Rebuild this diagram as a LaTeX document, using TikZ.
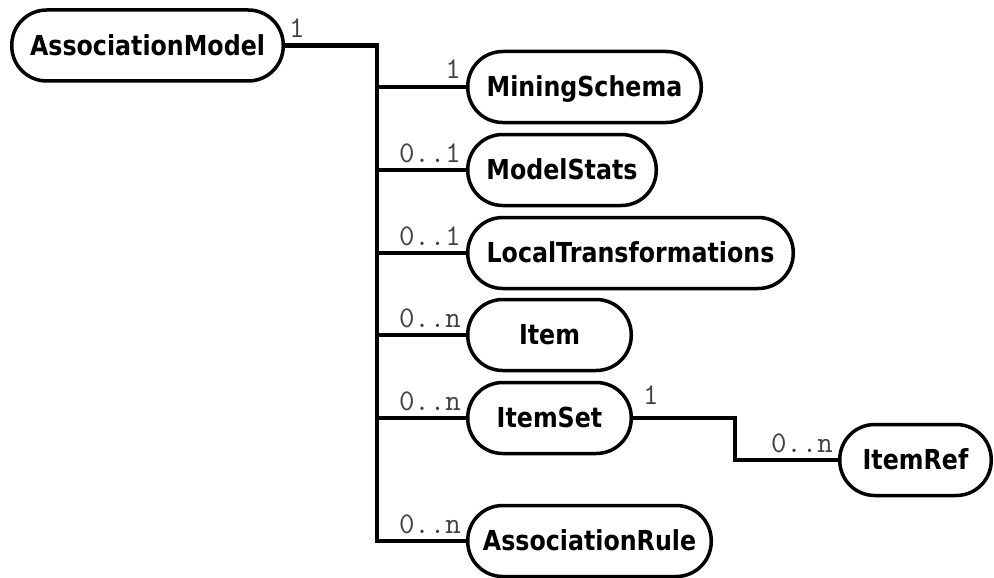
\documentclass[tikz,border=0pt]{standalone}
\usepackage{fontspec}
\setmainfont{DejaVu Sans}[FakeStretch=0.863]
\begin{document}
\begin{tikzpicture}[x=1pt,y=-1pt,
  element/.style={draw=black, line width=3.5pt, rounded corners=35pt,
    minimum height=71pt, inner sep=0pt, text height=19.7pt, text depth=0pt,
    font=\fontsize{27.5pt}{30pt}\selectfont\bfseries},
  link/.style={line width=4.5pt, line join=miter},
  mult/.style={inner sep=0pt, text=black!75,
    font=\fontsize{30pt}{32pt}\selectfont\ttfamily}]
\useasboundingbox (0,0) rectangle (994,578);

% element boxes
\node[element, minimum width=271.5pt] (am)  at (147.5,45.5) {AssociationModel};
\node[element, minimum width=233.5pt] (ms)  at (584.5,87)   {MiningSchema};
\node[element, minimum width=188.5pt] (mst) at (562,170)    {ModelStats};
\node[element, minimum width=325.5pt] (lt)  at (630.5,253)  {LocalTransformations};
\node[element, minimum width=163.5pt] (it)  at (549.5,335)  {Item};
\node[element, minimum width=163.5pt] (is)  at (549.5,418)  {ItemSet};
\node[element, minimum width=151.5pt] (ir)  at (915.5,460)  {ItemRef};
\node[element, minimum width=243.5pt] (ar)  at (589.5,541)  {AssociationRule};

% trunk and bend points of the connectors
\coordinate (trunk) at (377,0);
\coordinate (bend)  at (735,0);

% connectors
\draw[link] (am.east) -- (am.east -| trunk) -- (trunk |- ar.west) -- (ar.west);
\draw[link] (trunk |- ms.west)  -- (ms.west);
\draw[link] (trunk |- mst.west) -- (mst.west);
\draw[link] (trunk |- lt.west)  -- (lt.west);
\draw[link] (trunk |- it.west)  -- (it.west);
\draw[link] (trunk |- is.west)  -- (is.west);
\draw[link] (is.east) -- (is.east -| bend) -- (bend |- ir.west) -- (ir.west);

% multiplicities
\node[mult, anchor=base west] (m0) at ([xshift=4pt,yshift=8pt]am.east) {1};
\node[mult, anchor=base east] (m1) at ([xshift=-5pt,yshift=8pt]ms.west) {1};
\node[mult, anchor=base east] (m2) at ([xshift=-5pt,yshift=8pt]mst.west) {0..1};
\node[mult, anchor=base east] (m3) at ([xshift=-5pt,yshift=8pt]lt.west) {0..1};
\node[mult, anchor=base east] (m4) at ([xshift=-5pt,yshift=8pt]it.west) {0..n};
\node[mult, anchor=base east] (m5) at ([xshift=-5pt,yshift=8pt]is.west) {0..n};
\node[mult, anchor=base west] (m6) at ([xshift=10pt,yshift=14pt]is.east) {1};
\node[mult, anchor=base east] (m7) at ([xshift=-5pt,yshift=8pt]ir.west) {0..n};
\node[mult, anchor=base east] (m8) at ([xshift=-5pt,yshift=8pt]ar.west) {0..n};
\end{tikzpicture}
\end{document}
